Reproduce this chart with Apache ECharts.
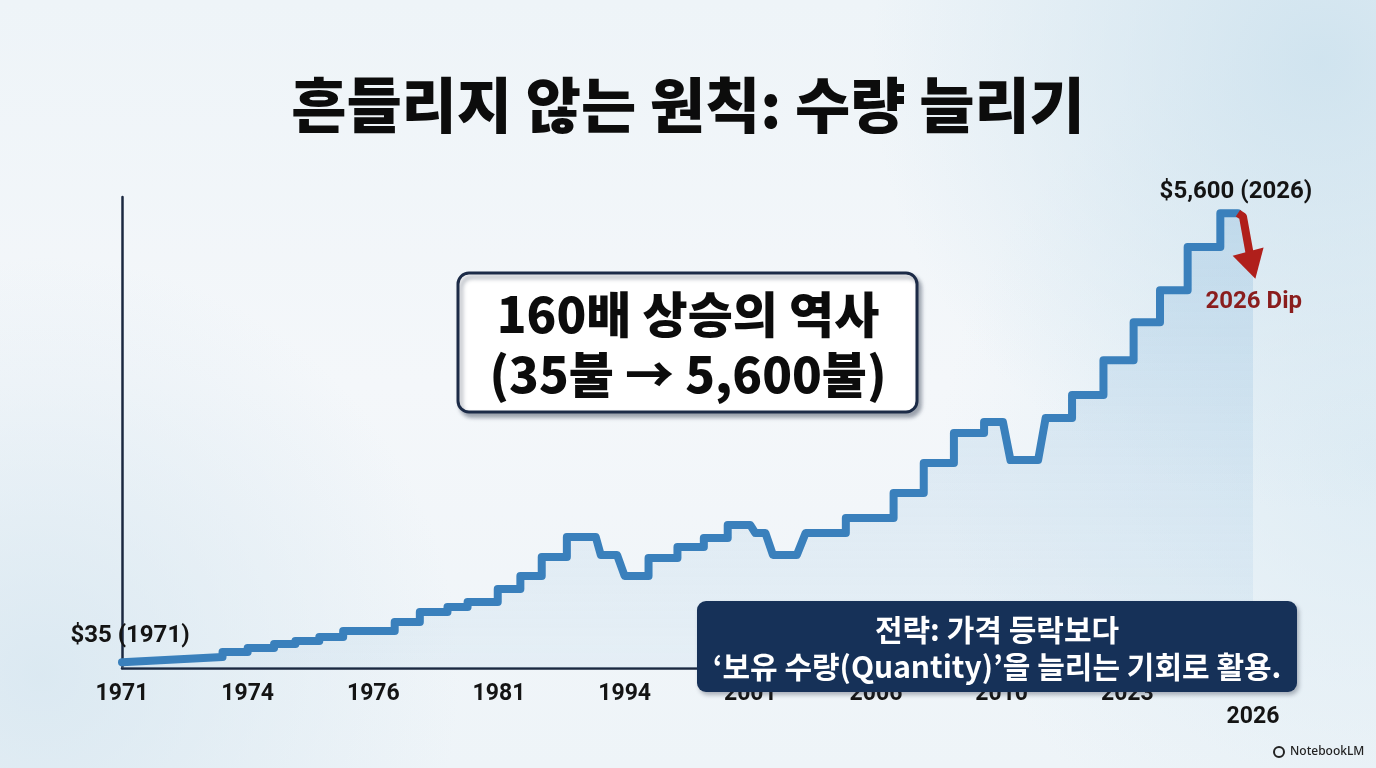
<!DOCTYPE html>
<html>
<head>
<meta charset="utf-8">
<script src="https://cdn.jsdelivr.net/npm/echarts@6/dist/echarts.min.js"></script>
<style>
  html, body { margin: 0; padding: 0; width: 1376px; height: 768px; overflow: hidden; }
  body {
    background:
      radial-gradient(circle at 96% 8%, rgba(205,226,238,0.9) 0, rgba(205,226,238,0) 30%),
      radial-gradient(circle at 3% 88%, rgba(214,230,240,0.8) 0, rgba(214,230,240,0) 28%),
      radial-gradient(circle at 100% 60%, rgba(214,232,242,0.7) 0, rgba(214,232,242,0) 30%),
      linear-gradient(180deg, #eef4f8 0%, #f4f7fa 50%, #eef4f8 100%);
  }
  #chart { width: 1376px; height: 768px; }
</style>
</head>
<body>
<div id="chart"></div>
<script>
// ---- data (x = position along the year-label axis, y = gold price in USD) ----
const yearLabels = ['1971','1974','1976','1981','1994','2001','2006','2010','2023','2026'];

const pathX = [0.00,0.80,0.80,1.00,1.00,1.21,1.21,1.38,1.38,1.57,1.57,1.76,1.76,2.17,2.17,2.37,2.37,2.59,2.59,2.75,
               2.75,2.99,2.99,3.17,3.17,3.34,3.34,3.54,3.54,3.77,3.81,3.94,4.00,4.19,4.19,4.42,4.42,4.63,4.63,4.82,
               4.82,5.00,5.04,5.12,5.18,5.37,5.44,5.76,5.76,6.14,6.14,6.38,6.38,6.62,6.62,6.86,6.86,7.01,7.07,7.29,
               7.35,7.56,7.56,7.81,7.81,8.05,8.05,8.26,8.26,8.48,8.48,8.74,8.74,8.88];
const pathY = [70,135,197,197,246,246,295,295,332,332,382,382,455,455,566,566,689,689,751,751,
               812,812,972,972,1133,1133,1366,1366,1613,1613,1391,1391,1133,1133,1354,1354,1490,1490,1600,1600,
               1760,1760,1662,1662,1391,1391,1662,1662,1847,1847,2154,2154,2524,2524,2893,2893,3028,3028,2560,2560,
               3078,3078,3361,3361,3791,3791,4259,4259,4653,4653,5183,5183,5600,5600];

const dipX = [8.88, 8.92, 8.99];
const dipY = [5600, 5560, 4960];
const areaEnd = [9.0, 4950];

const startLabel = '$35 (1971)';
const peakLabel = '$5,600 (2026)';
const dipLabel = '2026 Dip';
const titleText = '흔들리지 않는 원칙: 수량 늘리기';
const boxLines = ['160배 상승의 역사', '(35불 → 5,600불)'];
const noteLines = ['전략: 가격 등락보다', '‘보유 수량(Quantity)’을 늘리는 기회로 활용.'];

// ---- build ----
const LAT = '"Roboto", "Noto Sans", sans-serif';
const KR = '"Noto Sans CJK KR", "Noto Sans", sans-serif';

const mainData = pathX.map((x, i) => {
  const item = { value: [x, pathY[i]] };
  if (i === 0) {
    item.label = { show: true, formatter: startLabel, position: 'top', offset: [8, -9],
      fontFamily: LAT, fontWeight: 'bold', fontSize: 24, color: '#141414' };
  }
  if (i === pathX.length - 1) {
    item.label = { show: true, formatter: peakLabel, position: 'top', offset: [-2, -4],
      fontFamily: LAT, fontWeight: 'bold', fontSize: 24, color: '#141414' };
  }
  return item;
});
const areaData = pathX.map((x, i) => [x, pathY[i]]).concat([areaEnd]);
const dipData = dipX.map((x, i) => {
  const last = i === dipX.length - 1;
  return {
    value: [x, dipY[i]],
    symbol: last ? 'triangle' : 'none',
    symbolSize: last ? [32, 28] : 0,
    symbolRotate: last ? 195 : 0,
    label: last ? { show: true, formatter: dipLabel, position: 'bottom', offset: [2, 2],
      fontFamily: LAT, fontWeight: 'bold', fontSize: 24, color: '#8a1d1d' } : { show: false }
  };
});

const chart = echarts.init(document.getElementById('chart'), null, { renderer: 'canvas' });
chart.setOption({
  backgroundColor: 'transparent',
  animation: false,
  grid: { left: 122, right: 123, top: 197, bottom: 100, containLabel: false },
  xAxis: {
    type: 'value', min: 0, max: 9, interval: 1,
    axisLine: { show: true, lineStyle: { color: '#1b2840', width: 2.5 } },
    axisTick: { show: false },
    splitLine: { show: false },
    axisLabel: {
      show: true, margin: 15, showMinLabel: true, showMaxLabel: true,
      fontFamily: LAT, fontWeight: 'bold', fontSize: 23, color: '#141414', lineHeight: 23,
      formatter: v => { const i = Math.round(v); return i === yearLabels.length - 1 ? '\n' + yearLabels[i] : yearLabels[i]; }
    }
  },
  yAxis: {
    type: 'value', min: 0, max: 5800,
    axisLine: { show: true, lineStyle: { color: '#1b2840', width: 2.5 } },
    axisTick: { show: false }, axisLabel: { show: false }, splitLine: { show: false }
  },
  series: [
    {
      type: 'line', data: areaData, showSymbol: false, silent: true, z: 1,
      lineStyle: { width: 0, opacity: 0 },
      areaStyle: {
        color: new echarts.graphic.LinearGradient(0, 0, 0, 1, [
          { offset: 0, color: 'rgba(150,192,224,0.55)' },
          { offset: 1, color: 'rgba(180,210,232,0.25)' }
        ])
      }
    },
    {
      type: 'line', data: mainData, symbol: 'circle', symbolSize: 1, showSymbol: true, z: 3,
      itemStyle: { color: '#3a80bc' },
      lineStyle: { color: '#3a80bc', width: 8, join: 'round', cap: 'round' }
    },
    {
      type: 'line', data: dipData, z: 4, clip: false,
      itemStyle: { color: '#b01f1b' },
      lineStyle: { color: '#b01f1b', width: 8, join: 'round', cap: 'butt' }
    }
  ],
  graphic: [
    { type: 'text', z: 100, x: 688, y: 105,
      style: { text: titleText, font: '900 60px ' + KR, fill: '#0c0c0c', align: 'center', verticalAlign: 'middle' } },
    { type: 'rect', z: 100, shape: { x: 458, y: 273, width: 459, height: 139, r: 11 },
      style: { fill: '#ffffff', stroke: '#1c2b47', lineWidth: 3,
        shadowBlur: 4, shadowOffsetX: 3, shadowOffsetY: 4, shadowColor: 'rgba(60,70,90,0.45)' } },
    { type: 'text', z: 101, x: 688, y: 344,
      style: { text: boxLines.join('\n'), font: '900 49px ' + KR, lineHeight: 60, fill: '#0c0c0c', align: 'center', verticalAlign: 'middle' } },
    { type: 'rect', z: 100, shape: { x: 697, y: 601, width: 600, height: 91, r: 9 },
      style: { fill: '#163158', shadowBlur: 4, shadowOffsetX: 2, shadowOffsetY: 3, shadowColor: 'rgba(40,50,70,0.35)' } },
    { type: 'text', z: 101, x: 997, y: 648,
      style: { text: noteLines.join('\n'), font: '700 30px ' + KR, lineHeight: 37, fill: '#ffffff', align: 'center', verticalAlign: 'middle' } },
    { type: 'text', z: 100, x: 1290, y: 752,
      style: { text: 'NotebookLM', font: '500 12px "Noto Sans", Roboto, sans-serif', fill: '#222', align: 'left', verticalAlign: 'middle' } },
    { type: 'circle', z: 100, shape: { cx: 1279, cy: 752, r: 5 },
      style: { fill: 'none', stroke: '#222', lineWidth: 2 } }
  ]
});
</script>
</body>
</html>
